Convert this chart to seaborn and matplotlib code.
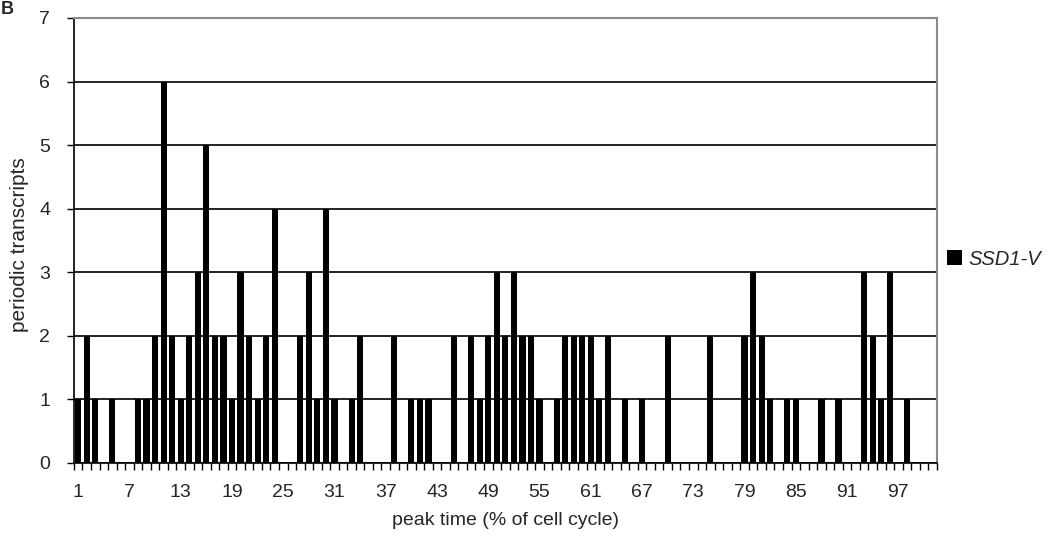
import numpy as np
import pandas as pd
import matplotlib
matplotlib.use("Agg")
import matplotlib.pyplot as plt
import seaborn as sns

# peak time categories (% of cell cycle), one bar slot each
peak_time = list(range(1, 102))
# number of periodic transcripts peaking at each time
transcripts = [1, 2, 1, 0, 1, 0, 0, 1, 1, 2,   # 1-10
               6, 2, 1, 2, 3, 5, 2, 2, 1, 3,   # 11-20
               2, 1, 2, 4, 0, 0, 2, 3, 1, 4,   # 21-30
               1, 0, 1, 2, 0, 0, 0, 2, 0, 1,   # 31-40
               1, 1, 0, 0, 2, 0, 2, 1, 2, 3,   # 41-50
               2, 3, 2, 2, 1, 0, 1, 2, 2, 2,   # 51-60
               2, 1, 2, 0, 1, 0, 1, 0, 0, 2,   # 61-70
               0, 0, 0, 0, 2, 0, 0, 0, 2, 3,   # 71-80
               2, 1, 0, 1, 1, 0, 0, 1, 0, 1,   # 81-90
               0, 0, 3, 2, 1, 3, 0, 1, 0, 0,   # 91-100
               0]                              # 101
series_name = "SSD1-V"
tick_labels = [str(v) for v in peak_time[::6]]
y_ticks = list(range(0, 8))

df = pd.DataFrame({"peak": peak_time, "n": transcripts})

sns.set_theme(style="white")
plt.rcParams['font.family'] = ['Liberation Sans', 'DejaVu Sans']

fig = plt.figure(figsize=(10.49, 5.45), dpi=100)
ax = fig.add_axes([0.0705, 0.1505, 0.8225, 0.8165])

sns.barplot(data=df, x="peak", y="n", order=peak_time, color="black",
            saturation=1, width=0.72, linewidth=0, label=series_name, ax=ax)

ax.set_xlim(-0.5, len(peak_time) - 0.5)
ax.set_ylim(0, 7)
ax.set_yticks(y_ticks)
ax.yaxis.grid(True, color="black", linewidth=1.2)
ax.set_axisbelow(True)

# labels every 6th category, small ticks between every category
ax.set_xticks(range(0, len(peak_time), 6), tick_labels)
ax.set_xticks(np.arange(-0.5, len(peak_time), 1), minor=True)
ax.tick_params(axis="x", which="both", bottom=True)
ax.tick_params(axis="x", which="major", length=0, pad=15, labelsize=14)
ax.tick_params(axis="x", which="minor", length=5, width=1, color="black", direction="out")
ax.tick_params(axis="y", left=True, length=5, width=1, color="black", direction="out",
               labelsize=14, pad=12)

for side in ["left", "bottom"]:
    ax.spines[side].set_color("black")
    ax.spines[side].set_linewidth(1.2)
for side in ["top", "right"]:
    ax.spines[side].set_color("#8a8a8a")
    ax.spines[side].set_linewidth(1.5)

ax.set_xlabel("peak time (% of cell cycle)", fontsize=14)
ax.set_ylabel("periodic transcripts", fontsize=15)
ax.xaxis.set_label_coords(0.5, -0.11)
ax.yaxis.set_label_coords(-0.052, 0.49)

ax.legend(loc="center left", bbox_to_anchor=(1.012, 0.458), frameon=False,
          prop={"style": "italic", "size": 14.5}, handlelength=0.75, handleheight=0.75,
          handletextpad=0.3, borderaxespad=0, borderpad=0)

# panel letter in the top-left corner
fig.text(0.001, 0.999, "B", fontsize=13, fontweight="bold", va="top", ha="left")

fig.savefig("out.png", dpi=100)
